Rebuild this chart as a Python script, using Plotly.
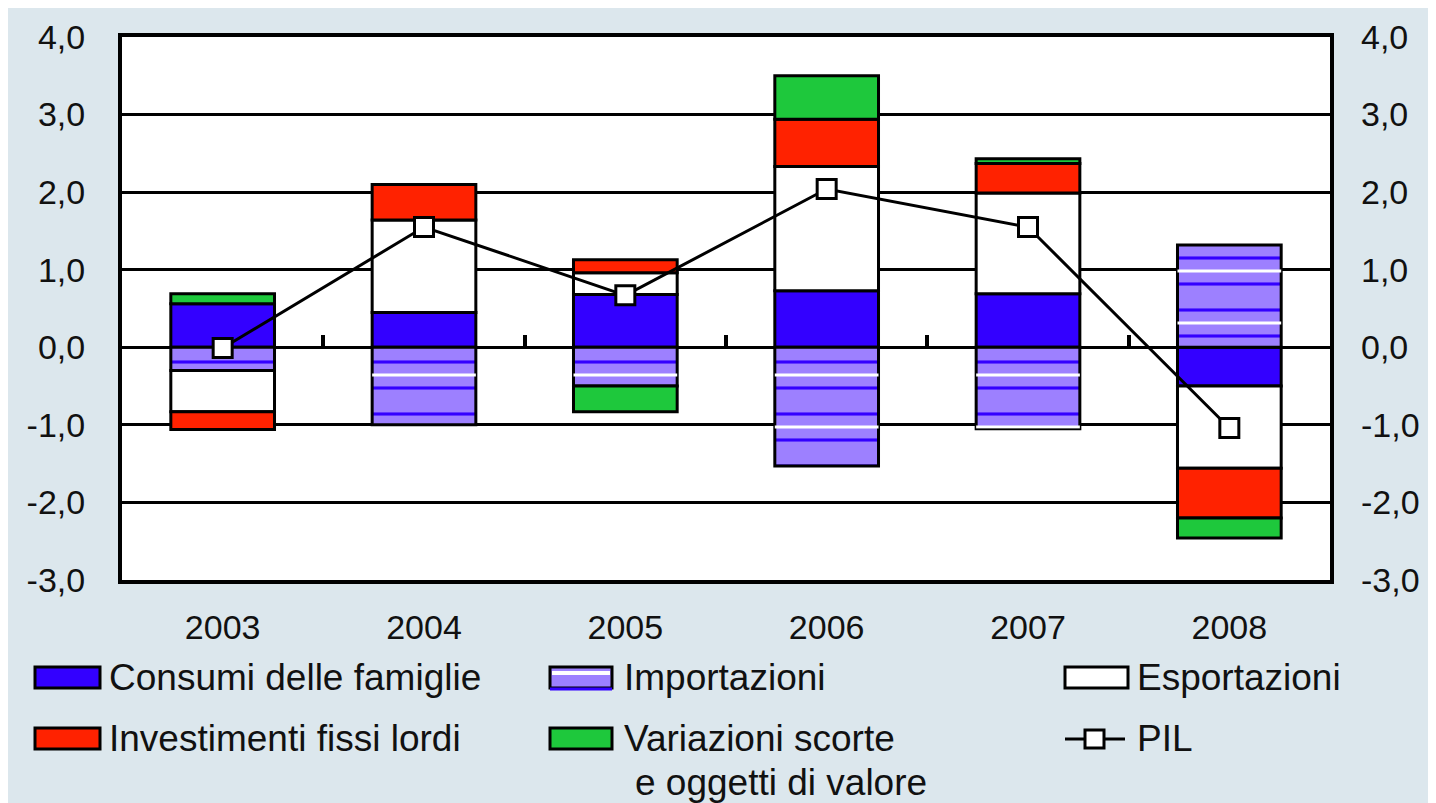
import plotly.graph_objects as go

# ---------------- data ----------------
years = ['2003', '2004', '2005', '2006', '2007', '2008']
consumi = [0.56, 0.45, 0.68, 0.73, 0.69, -0.50]
importazioni = [-0.30, -1.00, -0.50, -1.53, -1.05, 1.32]
esportazioni = [-0.53, 1.19, 0.28, 1.60, 1.30, -1.06]
investimenti = [-0.23, 0.46, 0.17, 0.61, 0.38, -0.64]
variazioni = [0.13, None, -0.33, 0.56, 0.06, -0.26]
pil = [-0.01, 1.55, 0.67, 2.04, 1.55, -1.04]

y_ticks = [-3, -2, -1, 0, 1, 2, 3, 4]
y_tick_text = ['-3,0', '-2,0', '-1,0', '0,0', '1,0', '2,0', '3,0', '4,0']

legend_labels = ['Consumi delle famiglie', 'Importazioni', 'Esportazioni',
                 'Investimenti fissi lordi', 'Variazioni scorte', 'PIL']
legend_label_extra = 'e oggetti di valore'

# ---------------- style ----------------
OFF = 8  # page body margin: the figure starts at (8, 8) in the page
W, H = 1436 - OFF, 803 - OFF
L, R, T, B = 122 - OFF, 106, 37 - OFF, 223
PW, PH = W - L - R, H - T - B

BLUE = '#3300ff'
PURPLE = '#9d80ff'
RED = '#ff2200'
GREEN = '#1ec83c'
BG = '#dce7ed'
FONT = 'Liberation Sans'
TXT = '#111111'


def px(x):
    """page x pixel -> paper fraction"""
    return (x - OFF - L) / PW


def py(y):
    """page y pixel -> paper fraction"""
    return (H - B - (y - OFF)) / PH


def bar(name, vals, color, **kw):
    return go.Bar(x=years, y=vals, name=name, showlegend=False, hoverinfo='skip',
                  marker=dict(color=color, line=dict(color='black', width=3), **kw))


fig = go.Figure()
fig.add_trace(bar(legend_labels[0], consumi, BLUE))
fig.add_trace(bar(legend_labels[1], importazioni, PURPLE,
                  pattern=dict(shape='-', fgcolor=BLUE, bgcolor=PURPLE, size=26,
                               solidity=0.12, fillmode='replace')))
fig.add_trace(bar(legend_labels[2], esportazioni, 'white'))
fig.add_trace(bar(legend_labels[3], investimenti, RED))
fig.add_trace(bar(legend_labels[4], variazioni, GREEN))

# white stripes of the hatched Importazioni bars (overlay on x2, same positions)
fig.add_trace(go.Bar(x=years, y=importazioni, xaxis='x2', yaxis='y', showlegend=False,
                     hoverinfo='skip',
                     marker=dict(color='rgba(0,0,0,0)', line=dict(width=0),
                                 pattern=dict(shape='-', fgcolor='white',
                                              bgcolor='rgba(0,0,0,0)', size=52,
                                              solidity=0.06, fillmode='replace'))))

fig.add_trace(go.Scatter(x=years, y=pil, name=legend_labels[5], xaxis='x', yaxis='y2',
                         mode='lines+markers', showlegend=False, hoverinfo='skip',
                         line=dict(color='black', width=3),
                         marker=dict(symbol='square', size=19, color='white',
                                     line=dict(color='black', width=3))))

tickfont = dict(family=FONT, size=34, color=TXT)

fig.update_layout(
    width=W, height=H,
    margin=dict(l=L, r=R, t=T, b=B, autoexpand=False),
    paper_bgcolor=BG, plot_bgcolor='white',
    barmode='relative', bargap=0.485,
    showlegend=False,
    xaxis=dict(type='category', categoryorder='array', categoryarray=years,
               showline=True, linecolor='black', linewidth=4, mirror=True,
               ticks='', showgrid=False, zeroline=False,
               tickfont=tickfont, ticklabelstandoff=14),
    xaxis2=dict(type='category', categoryorder='array', categoryarray=years,
                overlaying='x', anchor='free', position=3 / 7, side='bottom',
                ticks='inside', tickson='boundaries', ticklen=12, tickwidth=4,
                tickcolor='black', showticklabels=False, showline=False,
                showgrid=False, zeroline=False),
    yaxis=dict(range=[-3, 4], tickvals=y_ticks, ticktext=y_tick_text,
               showgrid=True, gridcolor='black', gridwidth=3,
               zeroline=True, zerolinecolor='black', zerolinewidth=3,
               showline=True, linecolor='black', linewidth=4, mirror=True,
               ticks='', tickfont=tickfont, ticklabelstandoff=26),
    yaxis2=dict(range=[-3, 4], overlaying='y', side='right', anchor='x',
                tickvals=y_ticks, ticktext=y_tick_text,
                showgrid=False, zeroline=False, showline=False,
                ticks='', tickfont=tickfont, ticklabelstandoff=30),
)

shapes = []


def swatch(x0, x1, y0, y1, fill):
    return dict(type='rect', xref='paper', yref='paper', x0=px(x0), x1=px(x1),
                y0=py(y1), y1=py(y0), fillcolor=fill, line=dict(color='black', width=3))


row1 = (667, 688)
row2 = (728, 749)
cols = [(35, 100), (550, 612), (1065, 1128)]

shapes.append(swatch(cols[0][0], cols[0][1], *row1, BLUE))
shapes.append(swatch(cols[1][0], cols[1][1], *row1, PURPLE))
shapes.append(dict(type='rect', xref='paper', yref='paper', x0=px(cols[1][0] + 2),
                   x1=px(cols[1][1] - 2), y0=py(675), y1=py(671), fillcolor='white',
                   line=dict(width=0)))
shapes.append(dict(type='line', xref='paper', yref='paper', x0=px(cols[1][0]),
                   x1=px(cols[1][1]), y0=py(689), y1=py(689),
                   line=dict(color=BLUE, width=3)))
shapes.append(swatch(cols[2][0], cols[2][1], *row1, 'white'))
shapes.append(swatch(cols[0][0], cols[0][1], *row2, RED))
shapes.append(swatch(cols[1][0], cols[1][1], *row2, GREEN))
shapes.append(dict(type='line', xref='paper', yref='paper', x0=px(1065), x1=px(1125),
                   y0=py(739), y1=py(739), line=dict(color='black', width=3)))
shapes.append(dict(type='rect', xref='paper', yref='paper', x0=px(1085), x1=px(1104),
                   y0=py(748), y1=py(730), fillcolor='white',
                   line=dict(color='black', width=3)))
fig.update_layout(shapes=shapes)

lfont = dict(family=FONT, size=37, color=TXT)
ann = []
text_x = [108, 623, 1136]
for i, lab in enumerate(legend_labels):
    r = i // 3
    c = i % 3
    yc = 677.5 if r == 0 else 738
    ann.append(dict(text=lab, x=px(text_x[c]), y=py(yc), xref='paper', yref='paper',
                    xanchor='left', yanchor='middle', showarrow=False, font=lfont,
                    borderpad=0))
ann.append(dict(text=legend_label_extra, x=px(634), y=py(782), xref='paper', yref='paper',
                xanchor='left', yanchor='middle', showarrow=False, font=lfont,
                borderpad=0))
fig.update_layout(annotations=ann)

fig.write_html('out.html')
